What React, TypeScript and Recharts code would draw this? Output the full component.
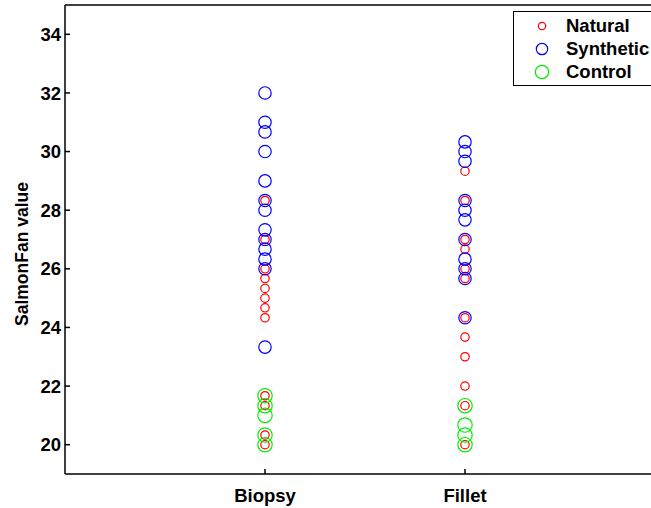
import {
  ReferenceLine,
  Scatter,
  ScatterChart,
  XAxis,
  YAxis,
} from "recharts";

const categories = ["Biopsy", "Fillet"];
const yTicks = [20, 22, 24, 26, 28, 30, 32, 34];

// SalmonFan scores per tissue and feed group
const biopsyNatural = [28.33, 27, 26, 25.67, 25.33, 25, 24.67, 24.33, 21.67, 21.33, 20.33, 20];
const biopsySynthetic = [32, 31, 30.67, 30, 29, 28.33, 28, 27.33, 27, 26.67, 26.33, 26, 23.33];
const biopsyControl = [21.67, 21.33, 21, 20.33, 20];

const filletNatural = [29.33, 28.33, 27, 26.67, 26, 25.67, 24.33, 23.67, 23, 22, 21.33, 20];
const filletSynthetic = [30.33, 30, 29.67, 28.33, 28, 27.67, 27, 26.33, 26, 25.67, 24.33];
const filletControl = [21.33, 20.67, 20.33, 20];

const FONT = '"Liberation Sans", Arial, Helvetica, sans-serif';

interface Group {
  name: string;
  color: string;
  r: number;
  biopsy: number[];
  fillet: number[];
}

const groups: Group[] = [
  { name: "Natural", color: "#ff0000", r: 4.2, biopsy: biopsyNatural, fillet: filletNatural },
  { name: "Synthetic", color: "#0000ff", r: 6.2, biopsy: biopsySynthetic, fillet: filletSynthetic },
  { name: "Control", color: "#00ee00", r: 7.2, biopsy: biopsyControl, fillet: filletControl },
];

function toPoints(g: Group) {
  return [
    ...g.biopsy.map((y) => ({ x: 1, y })),
    ...g.fillet.map((y) => ({ x: 2, y })),
  ];
}

function ringShape(color: string, r: number) {
  return (props: { cx?: number; cy?: number }) => {
    if (props.cx === undefined || props.cy === undefined) return <g />;
    return (
      <circle cx={props.cx} cy={props.cy} r={r} fill="none" stroke={color} strokeWidth={1.2} />
    );
  };
}

// legend drawn as an overlay so it doesn't eat plot space
function LegendBox() {
  const rows = [14, 37, 60];
  return (
    <div
      style={{
        position: "absolute",
        left: 513,
        top: 11,
        width: 150,
        height: 75,
        border: "1.5px solid #000",
        background: "#fff",
        boxSizing: "border-box",
        fontFamily: FONT,
      }}
    >
      {groups.map((g, i) => (
        <div
          key={g.name}
          style={{
            position: "absolute",
            left: 0,
            top: rows[i] - 12,
            height: 24,
            display: "flex",
            alignItems: "center",
          }}
        >
          <svg width={20} height={20} style={{ marginLeft: 18 }}>
            <circle cx={10} cy={10} r={g.r - 0.5} fill="none" stroke={g.color} strokeWidth={1.2} />
          </svg>
          <span
            style={{
              marginLeft: 14,
              fontSize: 18.5,
              fontWeight: "bold",
              color: "#000",
              lineHeight: "24px",
            }}
          >
            {g.name}
          </span>
        </div>
      ))}
    </div>
  );
}

export default function App() {
  return (
    <div
      style={{
        position: "fixed",
        left: 0,
        top: 0,
        width: 651,
        height: 508,
        overflow: "hidden",
        background: "#fff",
      }}
    >
      <ScatterChart
        width={700}
        height={508}
        margin={{ top: 5, right: 35, bottom: 0, left: 0 }}
      >
        <XAxis
          type="number"
          dataKey="x"
          domain={[0, 3]}
          ticks={[1, 2]}
          tickFormatter={(v: number) => categories[v - 1] ?? ""}
          height={34}
          stroke="#000"
          strokeWidth={1.5}
          tickSize={-5}
          tickMargin={20}
          tick={{ fontSize: 18.5, fontWeight: "bold", fill: "#000", fontFamily: FONT }}
          allowDataOverflow
        />
        <YAxis
          type="number"
          dataKey="y"
          domain={[19, 35]}
          ticks={yTicks}
          width={65}
          stroke="#000"
          strokeWidth={1.5}
          tickSize={-5}
          tickMargin={9}
          tick={{ fontSize: 18.5, fontWeight: "bold", fill: "#000", fontFamily: FONT }}
          allowDataOverflow
          label={{
            content: () => (
              <text
                x={22}
                y={254}
                transform="rotate(-90, 22, 254)"
                textAnchor="middle"
                dominantBaseline="central"
                fontSize={17.5}
                fontWeight="bold"
                fontFamily={FONT}
                fill="#000"
              >
                SalmonFan value
              </text>
            ),
          }}
        />
        <ReferenceLine y={35} stroke="#000" strokeWidth={1.5} />
        <ReferenceLine x={3} stroke="#000" strokeWidth={1.5} />
        {groups.map((g) => (
          <Scatter
            key={g.name}
            name={g.name}
            data={toPoints(g)}
            shape={ringShape(g.color, g.r)}
            isAnimationActive={false}
          />
        ))}
      </ScatterChart>
      <LegendBox />
    </div>
  );
}
